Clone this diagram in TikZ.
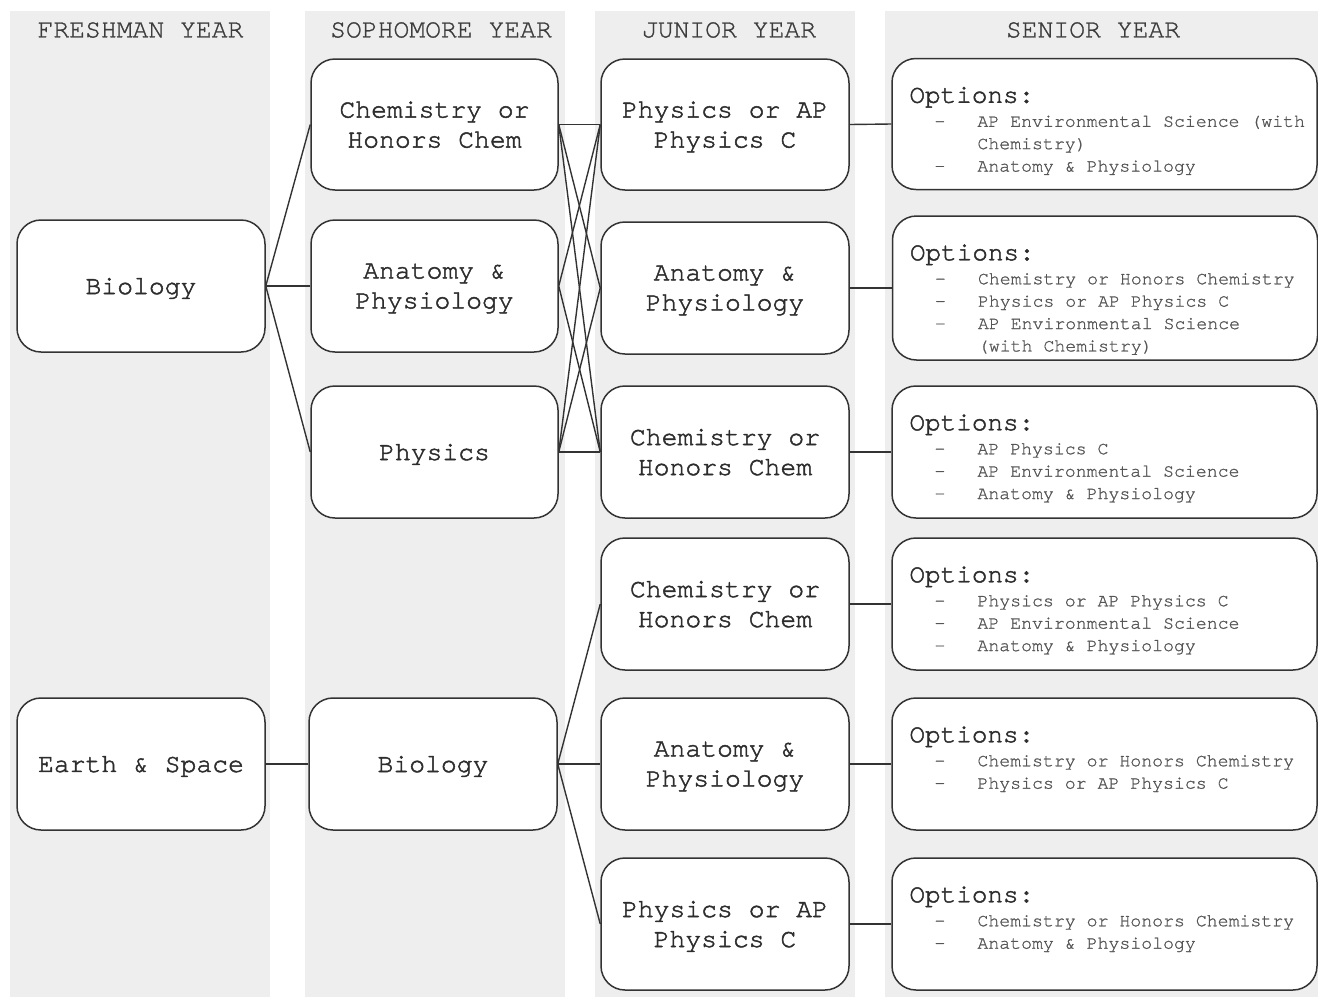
\documentclass[tikz,border=0pt]{standalone}
\usepackage{fontspec}
\setmainfont{TeX Gyre Cursor}[FakeBold=1]
\newfontfamily\boxfont{TeX Gyre Cursor}[FakeBold=1.8]
\usetikzlibrary{calc}
\definecolor{colbg}{RGB}{238,238,238}
\definecolor{edge}{RGB}{51,51,51}
\definecolor{txt}{RGB}{45,45,45}
\definecolor{hdrtxt}{RGB}{60,60,60}
\definecolor{itemtxt}{RGB}{85,85,85}
\newcommand\optlist[2]{%
  \node[optlabel] at ($(#1.north west)+(18,45)$) {Options:};
  \foreach \d/\t [count=\i from 0] in {#2} {
    \node[itemtext] at ($(#1.north west)+(43,69+22.4*\i)$) {\d};
    \node[itemtext] at ($(#1.north west)+(86,69+22.4*\i)$) {\t};
  }%
}
\begin{document}
\begin{tikzpicture}[x=1pt,y=-1pt,
  course/.style={draw=edge, line width=1.5pt, rounded corners=24pt, fill=white,
    minimum width=248pt, minimum height=132pt, align=center, text=txt,
    font=\boxfont\fontsize{26.4}{30}\selectfont, inner sep=0pt, text depth=0pt},
  optbox/.style={draw=edge, line width=1.5pt, rounded corners=24pt, fill=white,
    minimum width=425pt, minimum height=132pt, inner sep=0pt},
  header/.style={text=hdrtxt, font=\fontsize{26.4}{30}\selectfont, inner sep=0pt},
  optlabel/.style={anchor=base west, inner sep=0pt, text=txt,
    font=\boxfont\fontsize{26}{30}\selectfont},
  itemtext/.style={anchor=base west, inner sep=0pt, text=itemtxt,
    font=\fontsize{18.2}{22}\selectfont},
  link/.style={draw=edge, line width=1.4pt}]
\useasboundingbox[fill=white] (0,0) rectangle (1318,997);
% column backgrounds
\fill[colbg] (10,11) rectangle (270,997);
\fill[colbg] (305,11) rectangle (565,997);
\fill[colbg] (595,11) rectangle (855,997);
\fill[colbg] (885,11) rectangle (1318,997);
% headers
\node[header] (h1) at (140.5,30) {FRESHMAN YEAR};
\node[header] (h2) at (441,30) {SOPHOMORE YEAR};
\node[header] (h3) at (729,30) {JUNIOR YEAR};
\node[header] (h4) at (1093,30) {SENIOR YEAR};
% freshman
\node[course] (bioF) at (141,286) {Biology};
\node[course] (earth) at (141,764) {Earth \& Space};
% sophomore
\node[course, minimum width=247pt, minimum height=131pt] (chemS) at (434.5,124.5) {Chemistry or\\Honors Chem};
\node[course, minimum width=247pt] (anatS) at (434.5,286) {Anatomy \&\\Physiology};
\node[course, minimum width=247pt] (physS) at (434.5,452) {Physics};
\node[course] (bioS) at (433,764) {Biology};
% junior
\node[course, minimum height=131pt] (physJa) at (725,124.5) {Physics or AP\\Physics C};
\node[course] (anatJa) at (725,288) {Anatomy \&\\Physiology};
\node[course] (chemJa) at (725,452) {Chemistry or\\Honors Chem};
\node[course] (chemJb) at (725,604) {Chemistry or\\Honors Chem};
\node[course] (anatJb) at (725,764) {Anatomy \&\\Physiology};
\node[course] (physJb) at (725,924) {Physics or AP\\Physics C};
% senior
\node[optbox, minimum height=131pt] (o1) at (1104.5,124) {};
\node[optbox, minimum height=144pt] (o2) at (1105,288) {};
\node[optbox] (o3) at (1104.5,452) {};
\node[optbox] (o4) at (1104.5,604) {};
\node[optbox] (o5) at (1104.5,764) {};
\node[optbox] (o6) at (1104.5,924) {};
\optlist{o1}{-/AP Environmental Science (with, {}/Chemistry), -/Anatomy \& Physiology}
\optlist{o2}{-/Chemistry or Honors Chemistry, -/Physics or AP Physics C, -/AP Environmental Science, {}/(with Chemistry)}
\optlist{o3}{-/AP Physics C, -/AP Environmental Science, -/Anatomy \& Physiology}
\optlist{o4}{-/Physics or AP Physics C, -/AP Environmental Science, -/Anatomy \& Physiology}
\optlist{o5}{-/Chemistry or Honors Chemistry, -/Physics or AP Physics C}
\optlist{o6}{-/Chemistry or Honors Chemistry, -/Anatomy \& Physiology}
% connectors freshman -> sophomore
\draw[link] (bioF.east) -- (chemS.west);
\draw[link] (bioF.east) -- (anatS.west);
\draw[link] (bioF.east) -- (physS.west);
\draw[link] (earth.east) -- (bioS.west);
% sophomore -> junior
\draw[link] (chemS.east) -- (physJa.west);
\draw[link] (chemS.east) -- (anatJa.west);
\draw[link] (chemS.east) -- (chemJa.west);
\draw[link] (anatS.east) -- (physJa.west);
\draw[link] (anatS.east) -- (chemJa.west);
\draw[link] (physS.east) -- (physJa.west);
\draw[link] (physS.east) -- (anatJa.west);
\draw[link] (physS.east) -- (chemJa.west);
\draw[link] (bioS.east) -- (chemJb.west);
\draw[link] (bioS.east) -- (anatJb.west);
\draw[link] (bioS.east) -- (physJb.west);
% junior -> senior
\draw[link] (physJa.east) -- (o1.west);
\draw[link] (anatJa.east) -- (o2.west);
\draw[link] (chemJa.east) -- (o3.west);
\draw[link] (chemJb.east) -- (o4.west);
\draw[link] (anatJb.east) -- (o5.west);
\draw[link] (physJb.east) -- (o6.west);
\end{tikzpicture}
\end{document}
